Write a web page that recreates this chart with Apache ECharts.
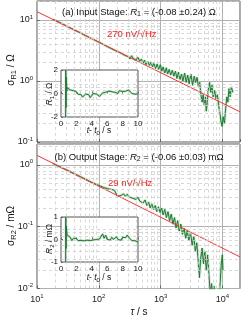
<!DOCTYPE html>
<html><head><meta charset="utf-8">
<script src="https://cdn.jsdelivr.net/npm/echarts@6/dist/echarts.min.js"></script>
<style>html,body{margin:0;padding:0;background:#fff}#c{width:241px;height:318px}</style>
</head><body><div id="c"></div>
<script>
// ---- data ----
const tauTop = [18,20,25,30,40,50,60,70,80,100,120,150,180,200,230,260,280,300,320,340,360,380,400,430,460,490,520,550,580,620,660,700,740,780,830,880,930,990,1050,1100,1170,1240,1300,1380,1460,1550,1640,1740,1840,1950,2060,2180,2300,2450,2600,2750,2900,3100,3300,3500,3700,3900,4100,4300,4500,4700,4900,5100,5300,5500,5700,5900,6200,6500,6800,7100,7500,7900,8300,8700,9100,9500,9900,10300,10800,11300,11800,12300,12800,13400,14000,14800];
const sigTop = [10.3,9.8,8.8,8.0,6.9,6.2,5.6,5.2,4.85,4.35,3.95,3.5,3.2,3.05,2.85,2.65,2.6,2.5,2.3,2.6,2.35,2.5,2.2,2.45,2.1,2.3,1.95,2.2,1.85,2.1,1.8,2.05,1.7,1.95,1.6,1.9,1.55,1.85,1.45,1.7,1.35,1.65,1.3,1.55,1.25,1.5,1.2,1.45,1.1,1.4,1.05,1.3,1.0,1.35,0.95,1.25,0.9,1.3,0.85,1.2,0.95,1.15,0.8,0.95,0.6,0.45,0.6,0.4,0.55,0.32,0.45,0.7,0.95,0.65,0.85,0.55,0.7,0.5,0.6,0.4,0.3,0.22,0.18,0.26,0.2,0.35,0.55,0.45,0.75,0.55,0.8,0.65];
const tauBot = [18,20,25,30,40,50,60,70,80,100,120,140,160,180,190,200,210,230,250,270,290,310,330,350,370,400,430,460,490,520,560,600,640,680,720,770,820,870,920,980,1040,1100,1170,1240,1320,1400,1490,1580,1680,1780,1890,2000,2130,2260,2400,2550,2700,2870,3050,3250,3450,3650,3850,4050,4250,4450,4700,4950,5200,5500,5800,6100,6400,6700,7000,7300,7600,8000,8400,8800,9200,9600,10000,10200];
const sigBot = [1.06,1.0,0.9,0.83,0.72,0.645,0.59,0.545,0.51,0.465,0.43,0.41,0.4,0.385,0.36,0.31,0.33,0.32,0.34,0.31,0.335,0.3,0.32,0.29,0.31,0.275,0.3,0.26,0.28,0.24,0.27,0.22,0.25,0.2,0.235,0.19,0.22,0.175,0.21,0.17,0.2,0.155,0.19,0.14,0.175,0.125,0.16,0.11,0.14,0.095,0.125,0.085,0.11,0.075,0.095,0.065,0.085,0.06,0.08,0.05,0.07,0.04,0.055,0.03,0.015,0.03,0.045,0.025,0.04,0.02,0.035,0.015,0.008,0.012,0.006,0.011,0.005,0.009,0.004,0.007,0.012,0.025,0.035,0.02];
const fitTopTau = [10,19300], fitTopSig = [13.7,0.312];
const fitBotTau = [10,19300], fitBotSig = [1.42,0.0324];
const insetT = [0.6,0.62,0.66,0.7,0.75,0.8,0.9,1.0,1.2,1.4,1.6,1.8,2.0,2.2,2.4,2.6,2.8,3.0,3.2,3.4,3.6,3.8,4.0,4.2,4.4,4.6,4.8,5.0,5.2,5.4,5.6,5.8,6.0,6.2,6.4,6.6,6.8,7.0,7.2,7.4,7.6,7.8,8.0,8.2,8.4,8.6,8.8,9.0,9.2,9.4,9.6,9.8,10.0];
const inset1 = [-2.0,2.0,-1.2,1.4,0.2,0.5,0.45,0.35,0.3,0.2,0.25,0.1,0.15,-0.05,0.05,-0.1,-0.3,-0.15,-0.05,-0.2,-0.1,-0.35,-0.25,0.0,0.1,-0.05,0.05,-0.25,-0.1,0.05,-0.05,0.1,0.0,0.2,0.05,0.15,0.3,0.1,0.2,0.0,0.25,0.1,0.15,0.05,0.2,0.1,0.3,0.15,0.0,0.05,-0.05,0.0,-0.05];
const inset2 = [-1.0,1.0,-0.4,0.6,0.3,0.2,0.15,0.12,0.1,-0.05,0.05,-0.02,0.05,-0.05,0.03,-0.04,0.02,-0.06,0.0,-0.03,0.04,-0.05,0.02,-0.02,0.05,0.0,-0.03,0.02,0.05,0.25,0.05,0.2,0.0,0.08,-0.02,0.1,0.0,0.05,0.12,0.0,0.06,-0.03,0.1,0.02,0.08,0.2,0.1,0.05,-0.05,-0.1,-0.05,-0.08,-0.12];
const minorX = [20,30,40,50,60,70,80,90,200,300,400,500,600,700,800,900,2000,3000,4000,5000,6000,7000,8000,9000];
const minorYTop = [0.2,0.3,0.4,0.5,0.6,0.7,0.8,0.9,2,3,4,5,6,7,8,9,20];
const minorYBot = [0.02,0.03,0.04,0.05,0.06,0.07,0.08,0.09,0.2,0.3,0.4,0.5,0.6,0.7,0.8,0.9,2];

// ---- chart ----
const FF = '"Liberation Sans", Arial, sans-serif';
const zip = (a,b) => a.map((v,i)=>[v,b[i]]);
const pow10 = v => { const e = Math.round(Math.log10(v)); return '{b|10}{s|' + e + '}'; };
const powRich = { b:{fontSize:9,fontFamily:FF,color:'#222'}, s:{fontSize:6,fontFamily:FF,color:'#222',padding:[0,0,6,0]} };
const GREEN = '#1f7a32', HALO = 'rgba(130,195,145,0.5)', RED = '#ff3030';
function logX(gi, showLab){
  return {type:'log', gridIndex:gi, min:10, max:19300, logBase:10,
    axisLine:{show:false}, axisTick:{show:true, inside:true, length:3, lineStyle:{color:'#666'}},
    axisLabel:{show:showLab, showMinLabel:true, showMaxLabel:false, margin:5, formatter:pow10, rich:powRich},
    splitLine:{show:true, lineStyle:{color:'#b0b0b0', width:1}}};
}
function logY(gi, mn, mx){
  return {type:'log', gridIndex:gi, min:mn, max:mx, logBase:10,
    axisLine:{show:false}, axisTick:{show:true, inside:true, length:3, lineStyle:{color:'#666'}},
    axisLabel:{show:true, showMinLabel:true, showMaxLabel:false, margin:4, formatter:pow10, rich:powRich},
    splitLine:{show:true, lineStyle:{color:'#b0b0b0', width:1}}};
}
function insX(gi){
  return {type:'value', gridIndex:gi, min:0, max:10, interval:2, z:6,
    axisLine:{show:false}, axisTick:{show:true, inside:true, length:2, lineStyle:{color:'#666'}},
    axisLabel:{fontSize:8, fontFamily:FF, color:'#222', margin:3}, splitLine:{show:false}};
}
function insY(gi, mn, mx, iv){
  return {type:'value', gridIndex:gi, min:mn, max:mx, interval:iv, z:6,
    axisLine:{show:false}, axisTick:{show:true, inside:true, length:2, lineStyle:{color:'#666'}},
    axisLabel:{fontSize:8, fontFamily:FF, color:'#222', margin:3}, splitLine:{show:false}};
}
function minorSeries(xi, yi, ys){
  return {type:'line', xAxisIndex:xi, yAxisIndex:yi, data:[], z:1, silent:true,
    markLine:{silent:true, symbol:'none', animation:false, label:{show:false},
      lineStyle:{color:'#cfcfcf', type:[3,3], width:0.8},
      data: minorX.map(v=>({xAxis:v})).concat(ys.map(v=>({yAxis:v})))}};
}
const lineS = (xi, yi, data, color, w, z) => ({type:'line', xAxisIndex:xi, yAxisIndex:yi, data, showSymbol:false, symbol:'none', z, silent:true, lineStyle:{color, width:w}});

const tx = (x,y,text,size,rich,extra) => Object.assign({type:'text', x, y, silent:true, z:20,
  style:Object.assign({text, fontSize:size, fontFamily:FF, fill:'#111', align:'center', verticalAlign:'middle', rich})}, extra||{});
const richMain = s => ({ i:{fontSize:s, fontFamily:FF, fontStyle:'italic'}, sub:{fontSize:s-2.5, fontFamily:FF, padding:[5,0,0,0]} });
const redTxt = (x,y,t) => ({type:'text', x, y, silent:true, z:20, style:{text:t, fontSize:9.5, fontFamily:FF, fill:'#ff2020', align:'left', verticalAlign:'middle'}});

const option = {
  animation:false,
  grid:[
    {left:37, top:1, width:203, height:141, show:true, borderColor:'#555', borderWidth:1, backgroundColor:'transparent'},
    {left:37, top:144, width:203, height:144.5, show:true, borderColor:'#555', borderWidth:1, backgroundColor:'transparent'},
    {left:61, top:70, width:77, height:47, show:true, borderColor:'#555', borderWidth:1, backgroundColor:'#fff', z:5},
    {left:61, top:217, width:77, height:45, show:true, borderColor:'#555', borderWidth:1, backgroundColor:'#fff', z:5}
  ],
  xAxis:[logX(0,false), logX(1,true), insX(2), insX(3)],
  yAxis:[logY(0,0.1,20.5), logY(1,0.01,2.17), insY(2,-2,2,2), insY(3,-1,1,1)],
  series:[
    minorSeries(0,0,minorYTop),
    minorSeries(1,1,minorYBot),
    lineS(0,0,zip(tauTop,sigTop),HALO,2.4,2),
    lineS(0,0,zip(tauTop,sigTop),GREEN,1,3),
    lineS(0,0,zip(fitTopTau,fitTopSig),RED,1,4),
    lineS(1,1,zip(tauBot,sigBot),HALO,2.4,2),
    lineS(1,1,zip(tauBot,sigBot),GREEN,1,3),
    lineS(1,1,zip(fitBotTau,fitBotSig),RED,1,4),
    lineS(2,2,zip(insetT,inset1),HALO,2.2,8),
    lineS(2,2,zip(insetT,inset1),GREEN,1,9),
    lineS(3,3,zip(insetT,inset2),HALO,2.2,8),
    lineS(3,3,zip(insetT,inset2),GREEN,1,9)
  ],
  graphic:[
    tx(139,12,'(a) Input Stage: {i|R}{sub|1} = (-0.08 ±0.24) Ω',9.5,richMain(9.5)),
    tx(139,157,'(b) Output Stage: {i|R}{sub|2} = (-0.06 ±0.03) mΩ',9.5,richMain(9.5)),
    redTxt(107,34,'270 nV/√Hz'),
    redTxt(108,183,'29 nV/√Hz'),
    tx(11,70,'σ{sub|R1} / Ω',10,richMain(10),{rotation:Math.PI/2}),
    tx(11,226,'σ{sub|R2} / mΩ',10,richMain(10),{rotation:Math.PI/2}),
    tx(139,312,'{i|τ} / s',10,richMain(10)),
    tx(50,94,'{i|R}{sub|1} / Ω',8.5,richMain(8.5),{rotation:Math.PI/2}),
    tx(50,239,'{i|R}{sub|2} / mΩ',8.5,richMain(8.5),{rotation:Math.PI/2}),
    tx(99,131,'{i|t}- {i|t}{sub|0} / s',8.5,richMain(8.5)),
    tx(99,278,'{i|t}- {i|t}{sub|0} / s',8.5,richMain(8.5))
  ]
};
const chart = echarts.init(document.getElementById('c'), null, {renderer:'canvas'});
chart.setOption(option);
</script></body></html>
